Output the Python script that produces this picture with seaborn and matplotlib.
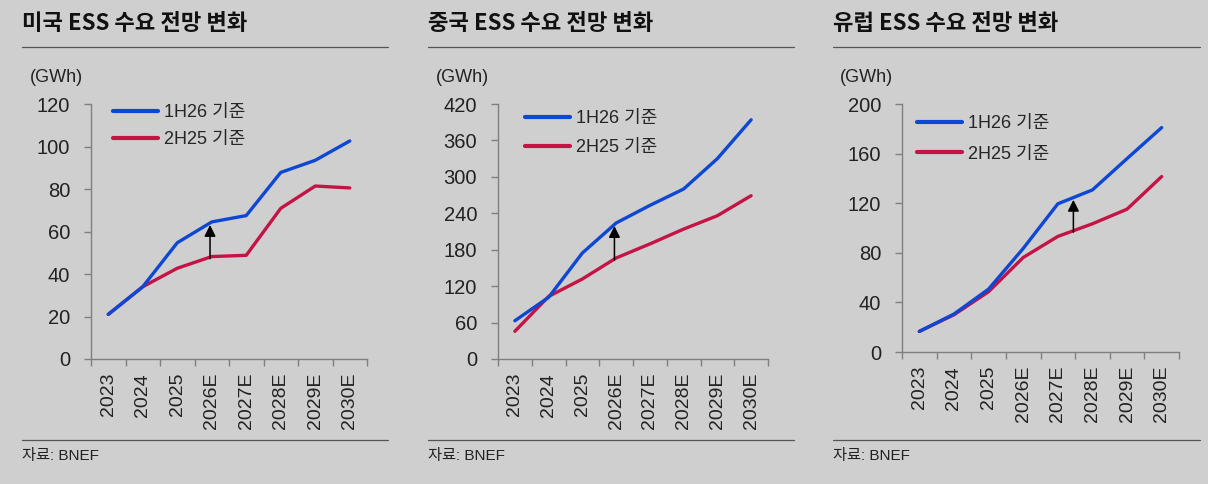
import numpy as np
import pandas as pd
import seaborn as sns
from matplotlib import pyplot as plt
from matplotlib.lines import Line2D

# data
YEARS = ["2023", "2024", "2025", "2026E", "2027E", "2028E", "2029E", "2030E"]
SERIES = ["1H26 기준", "2H25 기준"]

US_1H26 = [21, 34, 54.7, 64.5, 67.5, 87.8, 93.5, 102.6]
US_2H25 = [21, 34, 42.7, 48.2, 48.8, 70.9, 81.4, 80.5]

CN_1H26 = [63, 101.6, 174.6, 224, 253, 280, 330, 394]
CN_2H25 = [45.6, 103, 131.8, 166.4, 189.5, 214, 236, 269]

EU_1H26 = [16.6, 30.6, 50.7, 83.5, 119.5, 130.7, 156, 181]
EU_2H25 = [16.6, 30, 48.6, 76.2, 93.2, 103.4, 115.2, 141.5]

TITLES = ["미국 ESS 수요 전망 변화", "중국 ESS 수요 전망 변화", "유럽 ESS 수요 전망 변화"]
Y_TICKS = [np.arange(0, 121, 20), np.arange(0, 421, 60), np.arange(0, 201, 40)]
ARROW_AT = [3, 3, 4.5]

BG = "#cfcfcf"
BLUE = "#0d47d4"
RED = "#c41446"
GRAY = "#7f7f7f"
FONT = ["Liberation Sans", "Noto Sans CJK KR", "DejaVu Sans"]

sns.set_style("ticks")
plt.rcParams["font.family"] = FONT
plt.rcParams["axes.unicode_minus"] = False

W, H = 1208, 484
fig = plt.figure(figsize=(W / 100, H / 100), dpi=100, facecolor=BG)


def px_axes(x0, x1, y0, y1):
    return fig.add_axes([x0 / W, 1 - y1 / H, (x1 - x0) / W, (y1 - y0) / H])


def hline(x0, x1, y):
    fig.add_artist(Line2D([x0 / W, x1 / W], [1 - y / H, 1 - y / H], color="#555555", lw=0.9))


panels = [
    dict(box=(91, 367, 104, 359), left=22, right=388, gwh=56, leg=(0.08, 1.0), lsp=0.55,
         blue=US_1H26, red=US_2H25),
    dict(box=(498, 768, 104, 359), left=428, right=794, gwh=462, leg=(0.10, 0.975), lsp=0.65,
         blue=CN_1H26, red=CN_2H25),
    dict(box=(902, 1179, 104, 352), left=833, right=1200, gwh=866, leg=(0.055, 0.955), lsp=0.75,
         blue=EU_1H26, red=EU_2H25),
]

for i, p in enumerate(panels):
    ax = px_axes(*p["box"])
    ax.set_facecolor(BG)

    df = pd.DataFrame(
        {
            "year": YEARS * 2,
            "value": p["blue"] + p["red"],
            "series": [SERIES[0]] * len(YEARS) + [SERIES[1]] * len(YEARS),
        }
    )
    sns.lineplot(
        data=df, x="year", y="value", hue="series", hue_order=SERIES[::-1],
        palette={SERIES[0]: BLUE, SERIES[1]: RED}, sort=False, lw=2.4, ax=ax,
    )

    # arrow from old to new forecast
    xa = ARROW_AT[i]
    red_v = np.interp(xa, np.arange(len(YEARS)), p["red"])
    blue_v = np.interp(xa, np.arange(len(YEARS)), p["blue"])
    span = Y_TICKS[i][-1]
    ax.annotate(
        "", xy=(xa - 0.05, blue_v - span * 0.012), xytext=(xa - 0.05, red_v - span * 0.008),
        arrowprops=dict(arrowstyle="-|>", color="black", lw=1.1, mutation_scale=17, shrinkA=0, shrinkB=0),
    )

    ax.set_xlim(-0.5, len(YEARS) - 0.5)
    ax.set_ylim(0, Y_TICKS[i][-1])
    ax.set_yticks(Y_TICKS[i])
    ax.set_xticks(range(len(YEARS)))
    ax.set_xticklabels(YEARS, rotation=90, fontsize=14)
    ax.set_xticks(np.arange(-0.5, len(YEARS), 1), minor=True)
    ax.tick_params(axis="x", which="major", length=0, pad=10, colors="#222222")
    ax.tick_params(axis="x", which="minor", length=5, width=1, color=GRAY)
    ax.tick_params(axis="y", length=5, width=1, color=GRAY, labelsize=14.5, labelcolor="#222222", pad=10)
    ax.set(xlabel=None, ylabel=None)
    sns.despine(ax=ax)
    for s in ("left", "bottom"):
        ax.spines[s].set_color(GRAY)
        ax.spines[s].set_linewidth(1)

    handles, labels = ax.get_legend_handles_labels()
    order = [labels.index(s) for s in SERIES]
    leg = ax.legend(
        [handles[k] for k in order], [labels[k] for k in order],
        loc="upper left", bbox_to_anchor=p["leg"], frameon=False, fontsize=13,
        handlelength=2.5, handletextpad=0.3, labelspacing=p["lsp"], borderaxespad=0, borderpad=0,
    )
    for line in leg.get_lines():
        line.set_linewidth(3)

    fig.text(p["left"] / W, 1 - 24 / H, TITLES[i], fontsize=16, fontweight="bold",
             va="center", ha="left", color="#111111", family=["Noto Sans CJK KR"])
    hline(p["left"], p["right"], 47)
    fig.text(p["gwh"] / W, 1 - 78 / H, "(GWh)", fontsize=13, va="center", ha="center", color="#222222")
    hline(p["left"], p["right"], 440)
    fig.text(p["left"] / W, 1 - 456 / H, "자료: BNEF", fontsize=11, va="center", ha="left",
             color="#222222")

fig.savefig("out.png", dpi=100, facecolor=BG)
